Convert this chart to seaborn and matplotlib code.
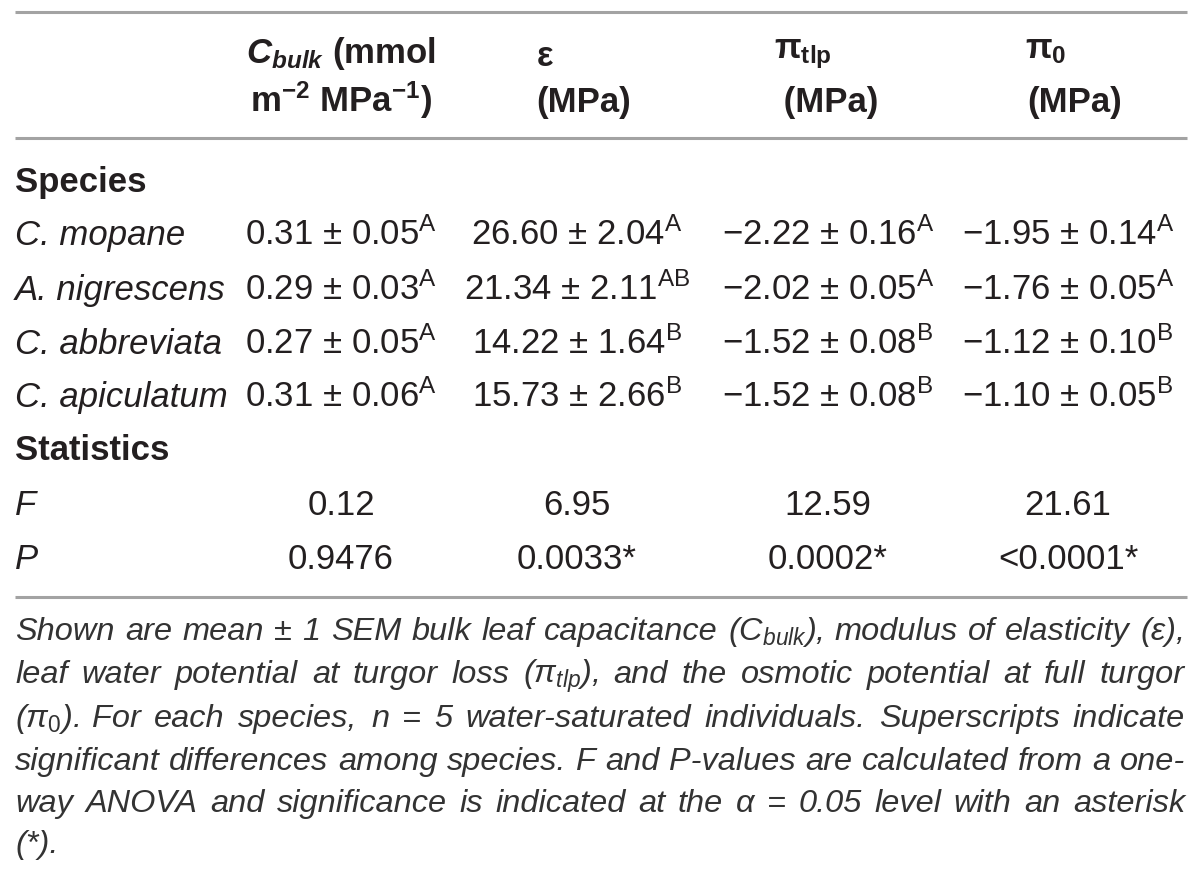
import matplotlib
matplotlib.use("Agg")
import matplotlib.pyplot as plt
import seaborn as sns

# table values
species = ["C. mopane", "A. nigrescens", "C. abbreviata", "C. apiculatum"]
cbulk_mean = [0.31, 0.29, 0.27, 0.31]
cbulk_sem = [0.05, 0.03, 0.05, 0.06]
cbulk_grp = ["A", "A", "A", "A"]
eps_mean = [26.60, 21.34, 14.22, 15.73]
eps_sem = [2.04, 2.11, 1.64, 2.66]
eps_grp = ["A", "AB", "B", "B"]
tlp_mean = [-2.22, -2.02, -1.52, -1.52]
tlp_sem = [0.16, 0.05, 0.08, 0.08]
tlp_grp = ["A", "A", "B", "B"]
pi0_mean = [-1.95, -1.76, -1.12, -1.10]
pi0_sem = [0.14, 0.05, 0.10, 0.05]
pi0_grp = ["A", "A", "B", "B"]
stat_names = ["F", "P"]
f_values = [0.12, 6.95, 12.59, 21.61]
p_values = ["0.9476", "0.0033*", "0.0002*", "<0.0001*"]

footnote = [
    r"Shown are mean ± 1 SEM bulk leaf capacitance (C$_{bulk}$), modulus of elasticity (ε),",
    r"leaf water potential at turgor loss (π$_{tlp}$), and the osmotic potential at full turgor",
    r"(π$_{0}$). For each species, $\it{n}$ = 5 water-saturated individuals. Superscripts indicate",
    r"significant differences among species. F and P-values are calculated from a one-",
    r"way ANOVA and significance is indicated at the α = 0.05 level with an asterisk",
    r"(*).",
]

sns.set_theme(style="white")
body = "Liberation Sans"
plt.rcParams["font.family"] = [body, "DejaVu Sans"]
plt.rcParams["mathtext.fontset"] = "custom"
plt.rcParams["mathtext.rm"] = body
plt.rcParams["mathtext.it"] = body + ":italic"
plt.rcParams["mathtext.bf"] = body + ":bold"
try:
    plt.rcParams["mathtext.bfit"] = body + ":bold:italic"
except KeyError:
    pass

ink = "#231f20"
rule = "#a3a3a3"
fs = 25

fig = plt.figure(figsize=(12, 8.73), dpi=100)
ax = fig.add_axes([0, 0, 1, 1])
ax.set_xlim(0, 1200)
ax.set_ylim(873, 0)
ax.axis("off")

# rules
for y in [12, 138, 597]:
    ax.plot([15, 1187], [y, y], color=rule, lw=2.2, solid_capstyle="butt")

# header
hb = dict(fontsize=fs, fontweight="bold", color=ink, va="baseline")
ax.text(341, 63, r"$\mathbfit{C}_{\mathbfit{bulk}}$ (mmol", ha="center", **hb)
ax.text(341, 112, r"m$^{\mathbf{-2}}$ MPa$^{\mathbf{-1}}$)", ha="center", **hb)
ax.text(537, 66, "ε", ha="left", **hb)
ax.text(536, 112, "(MPa)", ha="left", **hb)
ax.text(774, 58, r"π$_{\mathbf{tlp}}$", ha="left", **hb)
ax.text(774, 112, " (MPa)", ha="left", **hb)
ax.text(1025, 58, r"π$_{\mathbf{0}}$", ha="left", **hb)
ax.text(1027, 112, "(MPa)", ha="left", **hb)

# body rows
col_x = [341, 577, 828, 1068]
row_y = [233, 288, 342, 395]
base = 12


def fmt(v):
    return f"{v:.2f}".replace("-", "\u2212")


ax.text(15, 180 + base, "Species", fontsize=fs, fontweight="bold", color=ink, va="baseline")
cols = [(cbulk_mean, cbulk_sem, cbulk_grp), (eps_mean, eps_sem, eps_grp),
        (tlp_mean, tlp_sem, tlp_grp), (pi0_mean, pi0_sem, pi0_grp)]
for i, name in enumerate(species):
    y = row_y[i] + base
    ax.text(15, y, name, fontsize=fs, style="italic", color=ink, va="baseline")
    for j, (m, s, g) in enumerate(cols):
        txt = f"{fmt(m[i])} ± {fmt(s[i])}" + r"$^{\mathrm{" + g[i] + "}}$"
        ax.text(col_x[j], y, txt, fontsize=fs, color=ink, ha="center", va="baseline")

ax.text(15, 448 + base, "Statistics", fontsize=fs, fontweight="bold", color=ink, va="baseline")
stat_rows = [[f"{v:.2f}" for v in f_values], p_values]
for k, (nm, vals) in enumerate(zip(stat_names, stat_rows)):
    y = [503, 557][k] + base
    ax.text(15, y, nm, fontsize=fs, style="italic", color=ink, va="baseline")
    for j, v in enumerate(vals):
        ax.text(col_x[j], y, v, fontsize=fs, color=ink, ha="center", va="baseline")

# footnote, justified word by word
fig.canvas.draw()
rend = fig.canvas.get_renderer()
fkw = dict(style="italic", color="#333333", va="baseline")


def width(s, size):
    t = ax.text(0, 0, s, fontsize=size, **fkw)
    w = t.get_window_extent(rend).width
    t.remove()
    return w


left, right = 15, 1185
fsize = 21
widest = max(width(line, fsize) for line in footnote[:-1])
fsize = fsize * (right - left - 6) / widest

foot_y = [630, 673, 717, 760, 802, 843]
for idx, (line, yc) in enumerate(zip(footnote, foot_y)):
    y = yc + 10
    if idx == len(footnote) - 1:
        ax.text(left, y, line, fontsize=fsize, **fkw)
        continue
    words = line.split(" ")
    ws = [width(w, fsize) for w in words]
    gap = (right - left - sum(ws)) / (len(words) - 1)
    x = left
    for w, wd in zip(words, ws):
        ax.text(x, y, w, fontsize=fsize, **fkw)
        x += wd + gap

fig.savefig("out.png", dpi=100)
